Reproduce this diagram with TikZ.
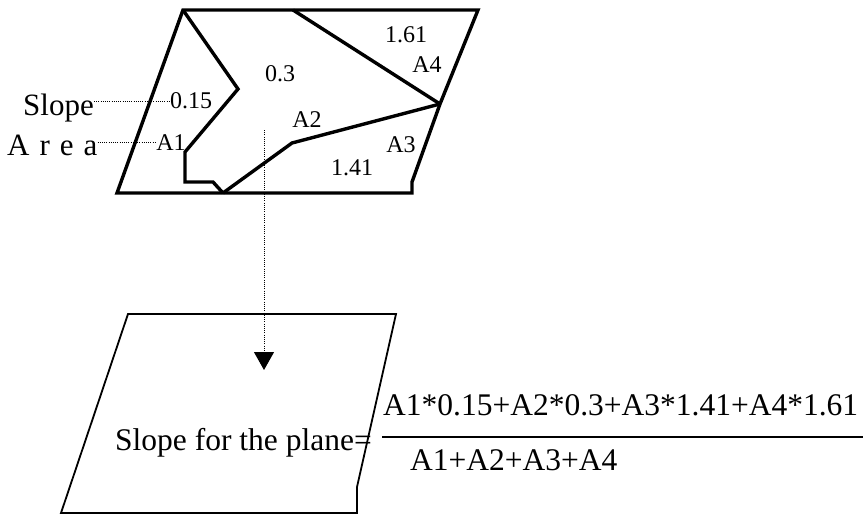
\documentclass[tikz,border=0pt]{standalone}
\usepackage{fontspec}
\setmainfont{Liberation Serif}
\usepackage{tikz}
\usetikzlibrary{calc,positioning,arrows.meta}
\tikzset{
  plotedge/.style={line width=3.4pt, line join=miter, black},
  planeedge/.style={line width=1.8pt, black},
  guide/.style={line width=1pt, dash pattern=on 1pt off 1.2pt, black},
  numlbl/.style={inner sep=0pt, anchor=base, font=\fontsize{24}{27}\selectfont},
  sidelbl/.style={inner sep=0pt, anchor=base west, font=\fontsize{31}{35}\selectfont},
  eqtext/.style={inner sep=0pt, anchor=base west, font=\fontsize{31.5}{36}\selectfont},
}

\begin{document}
\begin{tikzpicture}[x=1pt,y=-1pt]
  \useasboundingbox (0,0) rectangle (866,516);
  % upper plot with four areas
  \coordinate (tl) at (183,10);
  \coordinate (tm) at (293,10);
  \coordinate (tr) at (478,10);
  \coordinate (rv) at (440,104);
  \coordinate (rb) at (412,182);
  \coordinate (br) at (412,193);
  \coordinate (bl) at (117,193);
  \draw[plotedge] (tl) -- (tr) -- (rv) -- (rb) -- (br) -- (bl) -- cycle;
  \draw[plotedge] (tl) -- (238,89) -- (185,152) -- (185,182) -- (213,182) -- (223,193);
  \draw[plotedge] (223,193) -- (292,143) -- (rv);
  \draw[plotedge] (tm) -- (rv);
  % labels inside
  \node[numlbl] (s03)  at (280,82)  {0.3};
  \node[numlbl] (s015) at (191,109) {0.15};
  \node[numlbl] (s161) at (406,43)  {1.61};
  \node[numlbl] (a4)   at (427,73)  {A4};
  \node[numlbl] (a2)   at (307,128) {A2};
  \node[numlbl] (a3)   at (401,152) {A3};
  \node[numlbl] (s141) at (352,175) {1.41};
  \node[numlbl] (a1)   at (171,150) {A1};
  % legend on the left
  \node[sidelbl] (slope) at (23,115) {Slope};
  \node[sidelbl] (area)  at (7,155)  {A\hspace{10pt}r\hspace{10pt}e\hspace{10pt}a};
  \draw[guide] (slope.east |- s015.west) -- (s015.west);
  \draw[guide] (area.east |- a1.west) -- (a1.west);
  % down to the plane
  \coordinate (dropstart) at (264,130);
  \coordinate (dropend) at (264,370);
  \draw[guide, -{Triangle[length=18pt,width=20pt]}] (dropstart) -- (dropend);
  % lower plane
  \draw[planeedge] (128,314) -- (396,314) -- (357,487) -- (357,513) -- (61,513) -- cycle;
  \node[eqtext] (eqlhs) at (115,450) {Slope for the plane=};
  \node[eqtext] (num) at (383,415) {A1*0.15+A2*0.3+A3*1.41+A4*1.61};
  \node[eqtext] (den) at (410,470) {A1+A2+A3+A4};
  \draw[line width=2.4pt] (382,437) -- (863,437);
\end{tikzpicture}
\end{document}
